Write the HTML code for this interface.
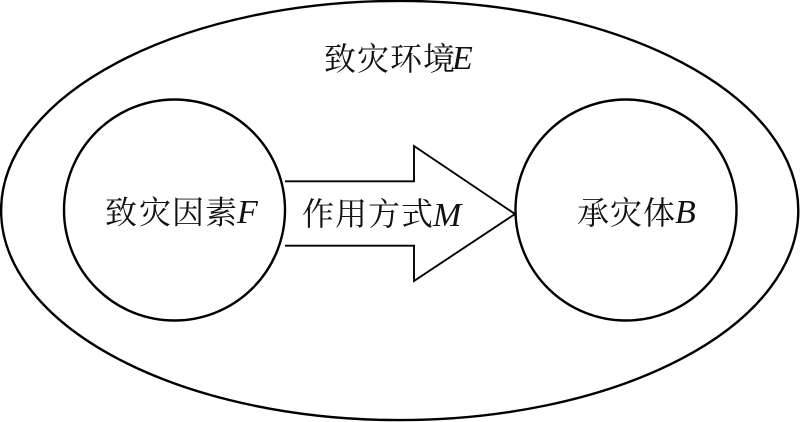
<!DOCTYPE html>
<html>
<head>
<meta charset="utf-8">
<style>
html,body{margin:0;padding:0;background:#fff;}
svg{display:block;}
text{font-family:"Liberation Serif","Noto Serif CJK SC",serif;font-size:32px;fill:#111;}
text.i{font-style:italic;font-size:34px;}
</style>
</head>
<body>
<svg width="800" height="422" viewBox="0 0 800 422" xmlns="http://www.w3.org/2000/svg">
<rect width="800" height="422" fill="#fff"/>
<ellipse cx="399.7" cy="210.5" rx="398.6" ry="209.6" fill="none" stroke="#000" stroke-width="2.4"/>
<circle cx="174.5" cy="210" r="110.5" fill="none" stroke="#000" stroke-width="2.4"/>
<circle cx="626" cy="210" r="110.5" fill="none" stroke="#000" stroke-width="2.4"/>
<polyline points="285,181.3 414,181.3 414,146 515,214 414,281 414,245.7 285,245.7" fill="none" stroke="#000" stroke-width="1.9"/>
<text x="324 357 390 423" y="70">致灾环境</text><text class="i" x="452" y="69">E</text>
<text x="105 139 172 205" y="223.5">致灾因素</text><text class="i" x="237" y="223">F</text>
<text x="302 335 368 401" y="225">作用方式</text><text class="i" x="433" y="226">M</text>
<text x="577 610 643" y="224">承灾体</text><text class="i" x="675" y="223">B</text>
</svg>
</body>
</html>
